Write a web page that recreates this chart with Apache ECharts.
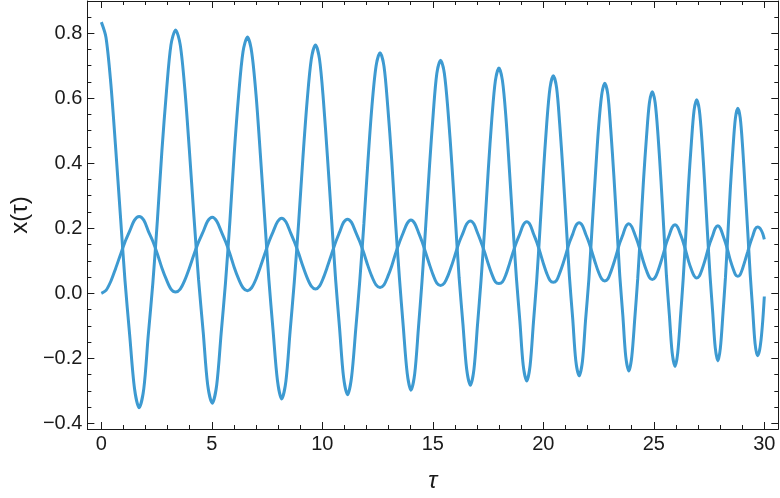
<!DOCTYPE html>
<html><head><meta charset="utf-8">
<script src="https://cdn.jsdelivr.net/npm/echarts@6/dist/echarts.min.js"></script>
<style>html,body{margin:0;padding:0;background:#fff}#c{width:780px;height:498px}</style>
</head><body><div id="c"></div>
<script>
const tau = [
0.00,0.21,0.43,0.64,0.86,1.07,1.28,1.50,1.71,
1.92,2.12,2.33,2.54,2.74,2.95,3.15,3.36,
3.57,3.78,3.98,4.19,4.40,4.61,4.81,5.02,
5.22,5.42,5.62,5.82,6.01,6.21,6.41,6.61,
6.80,7.00,7.19,7.39,7.58,7.77,7.97,8.16,
8.35,8.54,8.73,8.93,9.12,9.31,9.50,9.69,
9.87,10.05,10.23,10.42,10.60,10.78,10.96,11.14,
11.32,11.51,11.69,11.88,12.06,12.24,12.43,12.61,
12.79,12.96,13.14,13.31,13.49,13.66,13.84,14.01,
14.18,14.35,14.51,14.68,14.85,15.02,15.18,15.35,
15.52,15.69,15.86,16.03,16.19,16.36,16.53,16.70,
16.86,17.02,17.18,17.35,17.51,17.67,17.83,17.99,
18.15,18.31,18.46,18.62,18.78,18.94,19.09,19.25,
19.40,19.55,19.70,19.85,20.00,20.15,20.30,20.45,
20.60,20.74,20.89,21.04,21.18,21.33,21.47,21.62,
21.77,21.91,22.06,22.20,22.35,22.49,22.64,22.78,
22.92,23.05,23.19,23.33,23.46,23.60,23.73,23.87,
24.00,24.14,24.27,24.40,24.53,24.67,24.80,24.93,
25.06,25.19,25.32,25.45,25.57,25.70,25.83,25.96,
26.08,26.21,26.33,26.45,26.57,26.70,26.82,26.94,
27.06,27.18,27.30,27.42,27.54,27.66,27.78,27.90,
28.01,28.13,28.24,28.35,28.46,28.58,28.69,28.80,
28.91,29.02,29.13,29.25,29.36,29.47,29.58,29.69,
29.77,29.85,29.93,30.00];
const xLarge = [
0.834,0.787,0.644,0.454,0.241,0.039,-0.127,-0.293,-0.352,
-0.294,-0.131,0.031,0.229,0.438,0.624,0.764,0.810,
0.764,0.626,0.443,0.236,0.041,-0.120,-0.281,-0.338,
-0.282,-0.124,0.034,0.225,0.428,0.608,0.743,0.788,
0.743,0.610,0.432,0.232,0.042,-0.114,-0.269,-0.325,
-0.271,-0.118,0.034,0.220,0.416,0.590,0.720,0.764,
0.721,0.592,0.420,0.226,0.043,-0.108,-0.258,-0.312,
-0.259,-0.112,0.035,0.214,0.403,0.572,0.698,0.740,
0.698,0.574,0.408,0.221,0.045,-0.101,-0.246,-0.298,
-0.247,-0.105,0.037,0.210,0.392,0.555,0.676,0.717,
0.677,0.557,0.397,0.217,0.047,-0.093,-0.233,-0.283,
-0.234,-0.098,0.039,0.205,0.381,0.537,0.654,0.693,
0.654,0.539,0.385,0.212,0.048,-0.087,-0.222,-0.270,
-0.223,-0.092,0.040,0.200,0.369,0.519,0.631,0.669,
0.632,0.521,0.374,0.208,0.051,-0.079,-0.208,-0.254,
-0.209,-0.083,0.043,0.196,0.358,0.502,0.610,0.646,
0.611,0.504,0.363,0.204,0.053,-0.071,-0.195,-0.239,
-0.196,-0.076,0.044,0.191,0.345,0.483,0.586,0.620,
0.586,0.485,0.350,0.198,0.054,-0.064,-0.183,-0.225,
-0.184,-0.069,0.046,0.185,0.333,0.464,0.562,0.595,
0.563,0.467,0.338,0.194,0.057,-0.055,-0.168,-0.208,
-0.169,-0.060,0.048,0.181,0.320,0.445,0.538,0.569,
0.539,0.447,0.325,0.189,0.059,-0.047,-0.154,-0.192,
-0.180,-0.144,-0.083,-0.010];
const xSmall = [
0.000,0.009,0.037,0.075,0.118,0.158,0.191,0.225,0.236,
0.225,0.192,0.160,0.120,0.078,0.041,0.013,0.004,
0.013,0.041,0.077,0.119,0.158,0.190,0.222,0.234,
0.222,0.191,0.159,0.121,0.080,0.044,0.017,0.008,
0.017,0.044,0.080,0.120,0.158,0.189,0.220,0.231,
0.220,0.190,0.159,0.122,0.083,0.048,0.022,0.013,
0.022,0.048,0.082,0.121,0.157,0.188,0.218,0.228,
0.218,0.188,0.159,0.123,0.085,0.052,0.026,0.018,
0.026,0.051,0.084,0.122,0.157,0.186,0.215,0.2255,
0.215,0.187,0.159,0.124,0.088,0.055,0.031,0.024,
0.031,0.055,0.087,0.123,0.157,0.185,0.213,0.2225,
0.213,0.186,0.158,0.125,0.090,0.059,0.035,0.030,
0.035,0.058,0.089,0.124,0.156,0.183,0.210,0.220,
0.211,0.184,0.158,0.126,0.092,0.062,0.040,0.034,
0.040,0.062,0.091,0.124,0.156,0.182,0.208,0.217,
0.208,0.183,0.157,0.127,0.094,0.066,0.044,0.038,
0.044,0.065,0.093,0.125,0.155,0.180,0.205,0.214,
0.205,0.181,0.157,0.128,0.097,0.069,0.049,0.042,
0.049,0.069,0.096,0.126,0.155,0.179,0.203,0.211,
0.203,0.180,0.157,0.129,0.099,0.073,0.054,0.047,
0.053,0.073,0.098,0.127,0.155,0.177,0.200,0.208,
0.200,0.178,0.156,0.130,0.102,0.077,0.058,0.052,
0.058,0.077,0.101,0.128,0.154,0.175,0.197,0.204,
0.202,0.195,0.183,0.166];
const xTickValues = [0,5,10,15,20,25,30];
const xTickLabels = ['0','5','10','15','20','25','30'];
const yTickValues = [-0.4,-0.2,0,0.2,0.4,0.6,0.8];
const yTickLabels = ['\u22120.4','\u22120.2','0.0','0.2','0.4','0.6','0.8'];

const LINE = '#3d9ad1';
const INK = '#1a1a1a';
const FONT = 'Liberation Sans';

function lab(vals, labs) {
  return v => { const i = vals.findIndex(t => Math.abs(t - v) < 1e-6); return i < 0 ? '' : labs[i]; };
}
function xAx(pos, showLab) {
  return {
    type: 'value', position: pos, min: -0.632, max: 30.632, splitNumber: 6,
    axisLine: { show: true, onZero: false, lineStyle: { color: INK, width: 1 } },
    axisTick: { show: true, inside: true, length: 7, customValues: xTickValues, lineStyle: { color: INK } },
    minorTick: { show: true, splitNumber: 5, length: 4, lineStyle: { color: INK } },
    axisLabel: { show: showLab, customValues: xTickValues, formatter: lab(xTickValues, xTickLabels), margin: 5, fontSize: 20, fontFamily: FONT, color: INK },
    splitLine: { show: false },
    name: showLab ? 'τ' : '', nameLocation: 'middle', nameGap: 40,
    nameTextStyle: { fontSize: 24, fontFamily: FONT, fontStyle: 'italic', color: INK }
  };
}
function yAx(pos, showLab) {
  return {
    type: 'value', position: pos, min: -0.4175, max: 0.899, splitNumber: 6,
    axisLine: { show: true, onZero: false, lineStyle: { color: INK, width: 1 } },
    axisTick: { show: true, inside: true, length: 7, customValues: yTickValues, lineStyle: { color: INK } },
    minorTick: { show: true, splitNumber: 4, length: 4, lineStyle: { color: INK } },
    axisLabel: { show: showLab, customValues: yTickValues, formatter: lab(yTickValues, yTickLabels), margin: 5, fontSize: 20, fontFamily: FONT, color: INK },
    splitLine: { show: false },
    name: showLab ? 'x(τ)' : '', nameLocation: 'middle', nameGap: 54, nameRotate: 90,
    nameTextStyle: { fontSize: 24, fontFamily: FONT, color: INK }
  };
}

const chart = echarts.init(document.getElementById('c'), null, { renderer: 'canvas' });
chart.setOption({
  animation: false,
  backgroundColor: '#fff',
  grid: { left: 85.3, right: 1.7, top: 1, bottom: 69, containLabel: false },
  xAxis: [xAx('bottom', true), xAx('top', false)],
  yAxis: [yAx('left', true), yAx('right', false)],
  series: [
    { type: 'line', xAxisIndex: 0, yAxisIndex: 0, data: tau.map((t, i) => [t, xLarge[i]]), showSymbol: false, smooth: 0.3, lineStyle: { color: LINE, width: 3 } },
    { type: 'line', xAxisIndex: 0, yAxisIndex: 0, data: tau.map((t, i) => [t, xSmall[i]]), showSymbol: false, smooth: 0.3, lineStyle: { color: LINE, width: 3 } }
  ]
});
</script></body></html>
